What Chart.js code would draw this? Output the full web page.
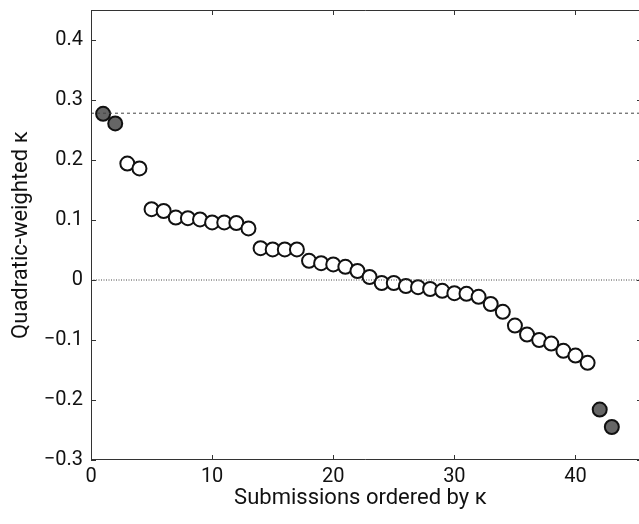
<!DOCTYPE html>
<html>
<head>
<meta charset="utf-8">
<script src="https://cdn.jsdelivr.net/npm/chart.js@4"></script>
<style>
  html, body { margin: 0; padding: 0; background: #fff; }
  #wrap { width: 639px; height: 524px; }
</style>
</head>
<body>
<div id="wrap"><canvas id="kappaChart"></canvas></div>
<script>
// Submissions ordered by kappa
const submissionRank = [1,2,3,4,5,6,7,8,9,10,11,12,13,14,15,16,17,18,19,20,21,22,23,24,25,26,27,28,29,30,31,32,33,34,35,36,37,38,39,40,41,42,43];
const kappaValues = [0.277,0.261,0.194,0.186,0.118,0.115,0.104,0.103,0.101,0.096,0.096,0.095,0.086,
  0.053,0.051,0.051,0.051,0.032,0.028,0.026,0.022,0.015,0.005,-0.005,-0.005,-0.010,-0.012,-0.015,
  -0.018,-0.022,-0.023,-0.028,-0.040,-0.053,-0.076,-0.091,-0.100,-0.106,-0.118,-0.126,-0.138,-0.216,-0.245];
const highlighted = [1, 2, 42, 43];
const referenceKappa = 0.278;
const xTicks = [0, 10, 20, 30, 40];
const yTicks = [-0.3, -0.2, -0.1, 0, 0.1, 0.2, 0.3, 0.4];

const X_MIN = 0, X_MAX = 44.5, Y_MIN = -0.3, Y_MAX = 0.45;
const LINE_END = 46; // reference lines run off the right edge
const FONT = 'Roboto, "Noto Sans", sans-serif';

// axes box (right side runs past the canvas) with inward ticks
const boxTicks = {
    id: 'boxTicks',
    afterDatasetsDraw(chart) {
        const { ctx, chartArea: a, scales: { x, y } } = chart;
        const edge = chart.width;
        ctx.save();
        ctx.strokeStyle = '#333';
        ctx.lineWidth = 1;
        ctx.beginPath();
        ctx.moveTo(edge, a.top + 0.5); ctx.lineTo(a.left + 0.5, a.top + 0.5);
        ctx.lineTo(a.left + 0.5, a.bottom - 0.5); ctx.lineTo(edge, a.bottom - 0.5);
        xTicks.forEach(v => {
            const px = Math.round(x.getPixelForValue(v)) + 0.5;
            ctx.moveTo(px, a.bottom); ctx.lineTo(px, a.bottom - 5);
            ctx.moveTo(px, a.top); ctx.lineTo(px, a.top + 5);
        });
        yTicks.forEach(v => {
            const py = Math.round(y.getPixelForValue(v)) + 0.5;
            ctx.moveTo(a.left, py); ctx.lineTo(a.left + 5, py);
            ctx.moveTo(edge, py); ctx.lineTo(edge - 2, py);
        });
        ctx.stroke();
        ctx.restore();
    }
};

const noOverflow = s => { s.paddingTop = 0; s.paddingBottom = 0; s.paddingLeft = 0; s.paddingRight = 0; };

const points = submissionRank.map((r, i) => ({ x: r, y: kappaValues[i] }));
const fills = submissionRank.map(r => highlighted.includes(r) ? '#666666' : '#ffffff');

new Chart(document.getElementById('kappaChart'), {
    type: 'scatter',
    data: {
        datasets: [{
            label: 'reference',
            type: 'line',
            data: [{ x: X_MIN, y: referenceKappa }, { x: LINE_END, y: referenceKappa }],
            borderColor: '#444',
            borderWidth: 1,
            borderDash: [3, 3],
            pointRadius: 0,
            clip: false
        }, {
            label: 'zero',
            type: 'line',
            data: [{ x: X_MIN, y: 0 }, { x: LINE_END, y: 0 }],
            borderColor: '#444',
            borderWidth: 1,
            borderDash: [1, 1.5],
            pointRadius: 0,
            clip: false
        }, {
            label: 'kappa',
            data: points,
            pointRadius: 7,
            pointBorderWidth: 2,
            pointBorderColor: '#111',
            pointBackgroundColor: fills,
            clip: false
        }]
    },
    options: {
        responsive: true,
        maintainAspectRatio: false,
        animation: false,
        layout: { padding: { top: 10, right: 0, left: 0, bottom: 12 } },
        plugins: { legend: { display: false }, tooltip: { enabled: false } },
        scales: {
            x: {
                type: 'linear',
                min: X_MIN,
                max: X_MAX,
                afterFit: s => { s.height = 52; noOverflow(s); },
                afterBuildTicks: s => { s.ticks = xTicks.map(v => ({ value: v })); },
                grid: { display: false, drawTicks: false },
                border: { display: false },
                ticks: { color: '#111', padding: 5, font: { family: FONT, size: 20 } },
                title: {
                    display: true,
                    text: 'Submissions ordered by κ',
                    color: '#111',
                    padding: { top: 0, bottom: 0 },
                    font: { family: FONT, size: 22 }
                }
            },
            y: {
                min: Y_MIN,
                max: Y_MAX,
                afterFit: s => { s.width = 91; noOverflow(s); },
                afterBuildTicks: s => { s.ticks = yTicks.map(v => ({ value: v })); },
                grid: { display: false, drawTicks: false },
                border: { display: false },
                ticks: {
                    color: '#111',
                    padding: 8,
                    font: { family: FONT, size: 20 },
                    callback: v => {
                        const r = Math.round(v * 10) / 10;
                        return r === 0 ? '0' : (r < 0 ? '\u2212' + Math.abs(r) : String(r));
                    }
                },
                title: {
                    display: true,
                    text: 'Quadratic-weighted κ',
                    color: '#111',
                    padding: { top: 8, bottom: 0 },
                    font: { family: FONT, size: 22 }
                }
            }
        }
    },
    plugins: [boxTicks]
});
</script>
</body>
</html>
